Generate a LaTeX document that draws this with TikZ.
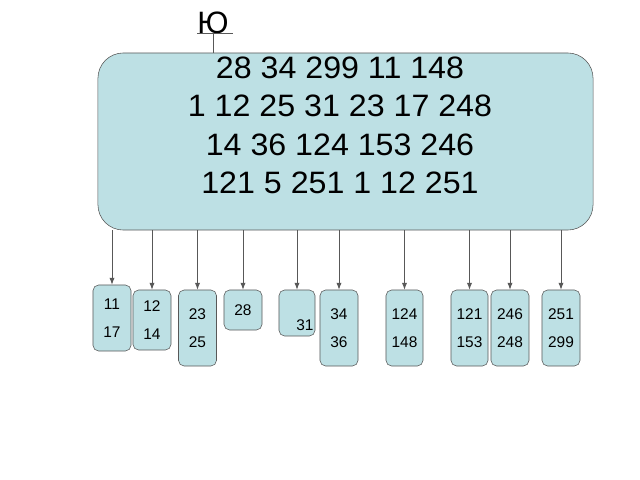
\documentclass[tikz,border=0pt]{standalone}
\usepackage{fontspec}
\setmainfont{Liberation Sans}
\usepackage{xcolor}
\usepackage{tikz}
\usetikzlibrary{arrows.meta,positioning}
\tikzset{>={Latex[width=1.3mm,length=1.7mm]}}
\definecolor{boxfill}{RGB}{189,224,228}
\definecolor{edgegray}{RGB}{88,88,88}

\begin{document}
\begin{tikzpicture}[x=0.025cm, y=-0.025cm]
	\tikzstyle{bucket}=[draw=edgegray, fill=boxfill, thin, rounded corners=4pt, minimum width=0.95cm, inner sep=0pt, align=center, font=\fontsize{11}{20.3}\selectfont]
	\tikzstyle{link}=[->, draw=edgegray, semithick]

	\useasboundingbox (0,0) rectangle (640,480);

	% the whole sequence
	\node[draw=edgegray, fill=boxfill, thin, rounded corners=18pt, minimum width=12.375cm, minimum height=4.425cm] (big) at (345.5,141.5) {};
	\node[align=center, xscale=1.04, transform shape, font=\fontsize{22}{27.4}\selectfont] (seq) at (340,125.5) {28 34 299 11 148\\1 12 25 31 23 17 248\\14 36 124 153 246\\121 5 251 1 12 251};

	\node[inner sep=0pt, anchor=base, font=\fontsize{22}{24}\selectfont] (yu) at (213,33) {Ю};
	\draw[edgegray] (yu.base west) -- ([xshift=3pt]yu.base east);
	\draw[edgegray] (yu.base) -- (yu.base |- big.north);

	% buckets
	\node[bucket, minimum height=1.65cm] (b1) at (112,318) {11\\17};
	\node[bucket, minimum height=1.5cm] (b2) at (152,320) {12\\14};
	\node[bucket, minimum height=1.9cm] (b3) at (197.5,328) {23\\25};
	\node[bucket, minimum height=1.0cm] (b4) at (243,310) {28};
	\node[bucket, minimum width=0.9cm, minimum height=1.15cm] (b5) at (297,313) {};
	\node[font=\fontsize{11}{12}\selectfont, inner sep=0pt] (n31) at (305,325) {31};
	\node[bucket, minimum height=1.9cm] (b6) at (339,328) {34\\36};
	\node[bucket, minimum width=0.925cm, minimum height=1.9cm] (b7) at (404.5,328) {124\\148};
	\node[bucket, minimum width=0.925cm, minimum height=1.9cm] (b8) at (469.5,328) {121\\153};
	\node[bucket, minimum height=1.9cm] (b9) at (510,328) {246\\248};
	\node[bucket, minimum height=1.9cm] (b10) at (561,328) {251\\299};

	\foreach \i in {1,...,10}
		\draw[link] (big.south -| b\i.north) -- (b\i.north);

\end{tikzpicture}
\end{document}
